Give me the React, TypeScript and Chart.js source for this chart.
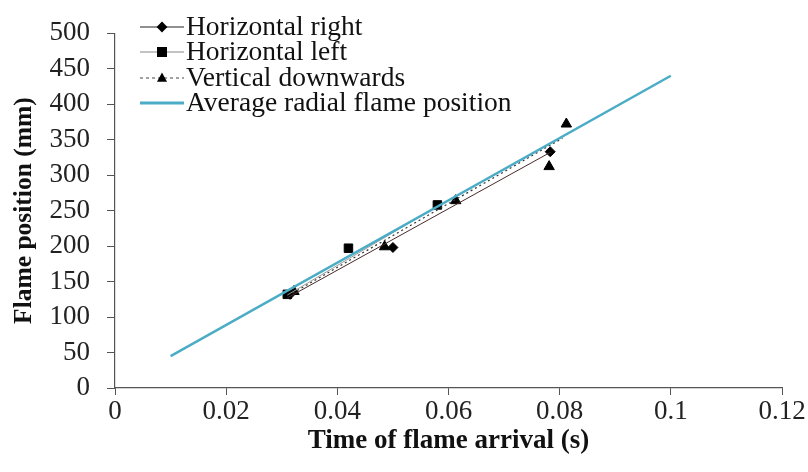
import React, { useEffect, useRef } from "react";
import { Chart, registerables } from "chart.js";

Chart.register(...registerables);

const xTickValues = [0, 0.02, 0.04, 0.06, 0.08, 0.1, 0.12];
const yTickValues = [0, 50, 100, 150, 200, 250, 300, 350, 400, 450, 500];

const seriesLabels = [
  "Horizontal right",
  "Horizontal left",
  "Vertical downwards",
  "Average radial flame position",
];

const hrTime = [0.0315, 0.05, 0.0783];
const hrPos = [132, 198, 333];
const hlTime = [0.031, 0.042, 0.058];
const hlPos = [132, 197, 258];
const vdTime = [0.0322, 0.0485, 0.0613, 0.0781, 0.0812];
const vdPos = [136, 199, 264, 312, 372];

const hrFitTime = [0.031, 0.0783];
const hrFitPos = [127, 332];
const hlFitTime = [0.031, 0.058];
const hlFitPos = [131, 256];
const vdFitTime = [0.032, 0.0805];
const vdFitPos = [134, 352];
const avgTime = [0.01, 0.1];
const avgPos = [45, 440];

const CYAN = "#4bacc6";
const SERIF = "'Liberation Serif', 'Times New Roman', serif";

const pts = (xs: number[], ys: number[]) => xs.map((x, i) => ({ x, y: ys[i] }));

function drawMarker(ctx: CanvasRenderingContext2D, style: string, x: number, y: number, r: number) {
  ctx.beginPath();
  if (style === "rect") {
    ctx.rect(x - r, y - r, 2 * r, 2 * r);
  } else if (style === "rectRot") {
    ctx.moveTo(x, y - r * 1.2);
    ctx.lineTo(x + r * 1.2, y);
    ctx.lineTo(x, y + r * 1.2);
    ctx.lineTo(x - r * 1.2, y);
    ctx.closePath();
  } else if (style === "triangle") {
    ctx.moveTo(x, y - r * 1.1);
    ctx.lineTo(x + r, y + r * 0.75);
    ctx.lineTo(x - r, y + r * 0.75);
    ctx.closePath();
  }
  ctx.fill();
}

const legendPlugin = {
  id: "customLegend",
  afterDraw(chart: any) {
    const ctx = chart.ctx as CanvasRenderingContext2D;
    const rows = [
      { label: seriesLabels[0], color: "#222", dash: [] as number[], marker: "rectRot", r: 4.5 },
      { label: seriesLabels[1], color: "#888", dash: [] as number[], marker: "rect", r: 5 },
      { label: seriesLabels[2], color: "#444", dash: [3, 3], marker: "triangle", r: 5 },
      { label: seriesLabels[3], color: CYAN, dash: [] as number[], marker: "", r: 0 },
    ];
    const x0 = 140;
    const x1 = 184;
    const ys = [27, 52, 78, 103];
    ctx.save();
    rows.forEach((row, i) => {
      const y = ys[i];
      ctx.beginPath();
      ctx.setLineDash(row.dash);
      ctx.strokeStyle = row.color;
      ctx.lineWidth = row.marker ? 1 : 3;
      ctx.moveTo(x0, y);
      ctx.lineTo(x1, y);
      ctx.stroke();
      ctx.setLineDash([]);
      if (row.marker) {
        ctx.fillStyle = "#000";
        drawMarker(ctx, row.marker, (x0 + x1) / 2, y, row.r);
      }
      ctx.fillStyle = "#111";
      ctx.font = `27.5px ${SERIF}`;
      ctx.textAlign = "left";
      ctx.textBaseline = "middle";
      ctx.fillText(row.label, 186, y + 1);
    });
    ctx.restore();
  },
};

export default function App() {
  const ref = useRef<HTMLCanvasElement | null>(null);

  useEffect(() => {
    if (!ref.current) return;
    const chart = new Chart(ref.current, {
      type: "scatter",
      data: {
        datasets: [
          {
            label: seriesLabels[3],
            data: pts(avgTime, avgPos),
            showLine: true,
            borderColor: CYAN,
            borderWidth: 2.5,
            pointRadius: 0,
          },
          {
            label: seriesLabels[0] + " fit",
            data: pts(hrFitTime, hrFitPos),
            showLine: true,
            borderColor: "#4a2a2a",
            borderWidth: 1,
            pointRadius: 0,
          },
          {
            label: seriesLabels[1] + " fit",
            data: pts(hlFitTime, hlFitPos),
            showLine: true,
            borderColor: "#999",
            borderWidth: 1,
            pointRadius: 0,
          },
          {
            label: seriesLabels[2] + " fit",
            data: pts(vdFitTime, vdFitPos),
            showLine: true,
            borderColor: "#333",
            borderWidth: 1.2,
            borderDash: [2, 3],
            pointRadius: 0,
          },
          {
            label: seriesLabels[0],
            data: pts(hrTime, hrPos),
            pointStyle: "rectRot",
            pointRadius: 5,
            backgroundColor: "#000",
            borderColor: "#000",
          },
          {
            label: seriesLabels[1],
            data: pts(hlTime, hlPos),
            pointStyle: "rect",
            pointRadius: 6,
            backgroundColor: "#000",
            borderColor: "#000",
          },
          {
            label: seriesLabels[2],
            data: pts(vdTime, vdPos),
            pointStyle: "triangle",
            pointRadius: 6,
            backgroundColor: "#000",
            borderColor: "#000",
          },
        ],
      },
      options: {
        responsive: false,
        animation: false,
        devicePixelRatio: 1,
        layout: { padding: { top: 23, right: 26, left: 0, bottom: 0 } },
        plugins: {
          legend: { display: false },
          tooltip: { enabled: false },
        },
        scales: {
          x: {
            type: "linear",
            min: 0,
            max: 0.12,
            afterBuildTicks: (scale: any) => {
              scale.ticks = xTickValues.map((v) => ({ value: v }));
            },
            afterFit: (scale: any) => {
              scale.height = 84;
            },
            grid: {
              display: true,
              drawOnChartArea: false,
              drawTicks: true,
              tickLength: 7,
              color: "#555",
            },
            border: { display: true, color: "#555", width: 1.2 },
            ticks: {
              padding: 1,
              color: "#222",
              font: { family: SERIF, size: 27 },
              maxRotation: 0,
              autoSkip: false,
              callback: (v: any) => String(Number(v)),
            },
            title: {
              display: true,
              text: "Time of flame arrival (s)",
              color: "#111",
              font: { family: SERIF, size: 27, weight: "bold" },
              padding: { top: 0, bottom: 15 },
            },
          },
          y: {
            type: "linear",
            min: 0,
            max: 500,
            afterBuildTicks: (scale: any) => {
              scale.ticks = yTickValues.map((v) => ({ value: v }));
            },
            afterFit: (scale: any) => {
              scale.width = 115;
            },
            grid: {
              display: true,
              drawOnChartArea: false,
              drawTicks: true,
              tickLength: 8,
              color: "#555",
            },
            border: { display: true, color: "#555", width: 1.2 },
            ticks: {
              padding: 17,
              color: "#222",
              font: { family: SERIF, size: 27 },
              autoSkip: false,
            },
            title: {
              display: true,
              text: "Flame position (mm)",
              color: "#111",
              font: { family: SERIF, size: 25.5, weight: "bold" },
              padding: { top: 9, bottom: 0 },
            },
          },
        },
      },
      plugins: [legendPlugin],
    });
    return () => chart.destroy();
  }, []);

  return (
    <div style={{ position: "fixed", left: 0, top: 0, width: 808, height: 472, background: "#fff" }}>
      <canvas ref={ref} width={808} height={472} style={{ width: 808, height: 472 }} />
    </div>
  );
}
